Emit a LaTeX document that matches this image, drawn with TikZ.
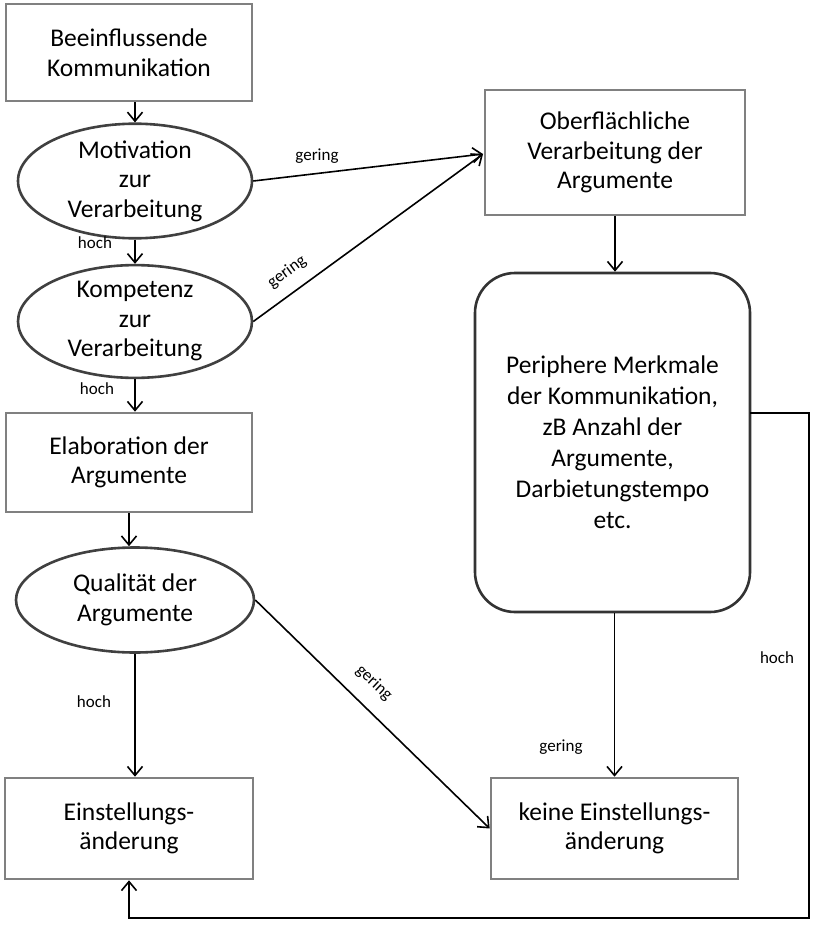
\documentclass[tikz,border=0pt]{standalone}
\usepackage{fontspec}
\setmainfont{Carlito}
\usetikzlibrary{shapes.geometric,arrows.meta}
\begin{document}
\begin{tikzpicture}[x=1pt,y=-1pt,
  txt/.style={font=\fontsize{25.5}{29.5}\selectfont, align=center, inner sep=0pt},
  gbox/.style={txt, draw=black!50, line width=2.6pt, minimum width=#1, rectangle},
  ell/.style={txt, ellipse, draw=black!75, line width=2.6pt},
  lab/.style={font=\fontsize{17}{19}\selectfont, inner sep=0pt},
  arr/.style={draw=black, line width=1.6pt, -{Straight Barb[length=9pt,width=15pt,line width=1.6pt]}}
]
\useasboundingbox (0,0) rectangle (815,925);
\fill[white] (0,0) rectangle (815,925);

\node[gbox=246pt, minimum height=97pt] (b1) at (129,52.5) {Beeinflussende\\Kommunikation};
\node[ell, minimum width=234pt, minimum height=98pt] (e1) at (135,181) {Motivation\\zur\\Verarbeitung};
\node[ell, minimum width=234pt, minimum height=97pt] (e2) at (135,321.5) {Kompetenz\\zur\\Verarbeitung};
\node[gbox=246pt, minimum height=99pt] (elab) at (129,462.5) {Elaboration der\\Argumente};
\node[ell, minimum width=238pt, minimum height=105pt] (e3) at (135,600) {Qualität der\\Argumente};
\node[gbox=248pt, minimum height=101pt] (ein) at (129,828.5) {Einstellungs-\\änderung};
\node[gbox=247pt, minimum height=101pt] (kein) at (614.5,828.5) {keine Einstellungs-\\änderung};
\node[gbox=260pt, minimum height=125pt] (ob) at (615,152.5) {Oberflächliche\\Verarbeitung der\\Argumente};
\node[txt, draw=black!80, line width=2.6pt, rounded corners=40pt, minimum width=275pt, minimum height=339pt, font=\fontsize{25.5}{31}\selectfont] (per) at (612.5,442.5) {Periphere Merkmale\\der Kommunikation,\\zB Anzahl der\\Argumente,\\Darbietungstempo\\etc.};

\coordinate (obin) at (483,154);
\coordinate (fb0) at (750,413);
\coordinate (fb1) at (809,413);
\coordinate (fb2) at (809,918);
\coordinate (fb3) at (129,918);

\draw[arr] (b1.south -| e1.north) -- (e1.north);
\draw[arr] (e1.south) -- (e2.north);
\draw[arr] (e2.south) -- (e2.south |- elab.north);
\draw[arr] (elab.south) -- (elab.south |- e3.north);
\draw[arr] (e3.south) -- (e3.south |- ein.north);
\draw[arr] (e1.east) -- (obin);
\draw[arr] (e2.east) -- (obin);
\draw[arr] (ob.south) -- (ob.south |- per.north);
\draw[arr] (per.south -| kein.north) -- (kein.north);
\draw[arr] (e3.east) -- (kein.west);
\draw[arr] (fb0) -- (fb1) -- (fb2) -- (fb3) -- (ein.south);

\node[lab] (l1) at (95,243) {hoch};
\node[lab] (l2) at (97,389) {hoch};
\node[lab] (l3) at (94,702) {hoch};
\node[lab] (l4) at (317,156) {gering};
\node[lab, rotate=36] (l5) at (287,272) {gering};
\node[lab, rotate=-43] (l6) at (374,683) {gering};
\node[lab] (l7) at (561,747) {gering};
\node[lab] (l8) at (777,658) {hoch};
\end{tikzpicture}
\end{document}
